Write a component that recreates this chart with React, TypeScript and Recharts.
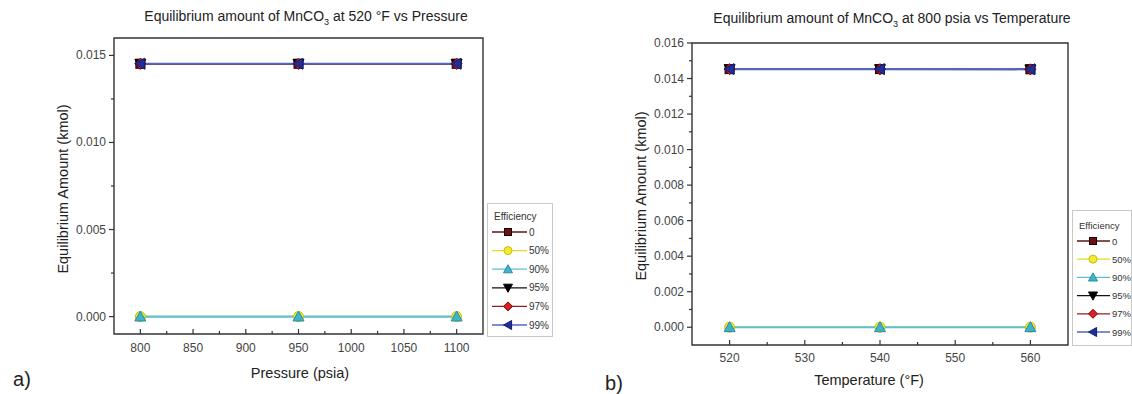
import React from "react";
import { LineChart, Line, XAxis, YAxis, ReferenceArea } from "recharts";

// x values of the two panels
const pressure = [800, 950, 1100];
const temperature = [520, 540, 560];

const efficiencies = ["0", "50%", "90%", "95%", "97%", "99%"];

// panel a: MnCO3 (kmol) at 520 °F, by efficiency
const pA_e0 = [0.01452, 0.01452, 0.01452];
const pA_e50 = [0, 0, 0];
const pA_e90 = [0, 0, 0];
const pA_e95 = [0.01452, 0.01452, 0.01452];
const pA_e97 = [0.01452, 0.01452, 0.01452];
const pA_e99 = [0.01452, 0.01452, 0.01452];

// panel b: MnCO3 (kmol) at 800 psia, by efficiency
const pB_e0 = [0.01453, 0.01453, 0.01452];
const pB_e50 = [0, 0, 0];
const pB_e90 = [0, 0, 0];
const pB_e95 = [0.01453, 0.01453, 0.01452];
const pB_e97 = [0.01453, 0.01453, 0.01452];
const pB_e99 = [0.01453, 0.01453, 0.01452];

// ticks (majors get labels)
const pressureTicks = [800, 825, 850, 875, 900, 925, 950, 975, 1000, 1025, 1050, 1075, 1100];
const pressureLabels = [800, 850, 900, 950, 1000, 1050, 1100];
const tempTicks = [520, 525, 530, 535, 540, 545, 550, 555, 560];
const tempLabels = [520, 530, 540, 550, 560];
const yTicksA = [0, 0.0025, 0.005, 0.0075, 0.01, 0.0125, 0.015];
const yLabelsA = [0, 0.005, 0.01, 0.015];
const yTicksB = [0, 0.001, 0.002, 0.003, 0.004, 0.005, 0.006, 0.007, 0.008, 0.009, 0.01, 0.011, 0.012, 0.013, 0.014, 0.015, 0.016];
const yLabelsB = [0, 0.002, 0.004, 0.006, 0.008, 0.01, 0.012, 0.014, 0.016];

const keys = ["e0", "e50", "e90", "e95", "e97", "e99"];

const styles = [
  { line: "#5a1414", fill: "#6d1010", edge: "#1a0000", shape: "square", w: 1.3 },
  { line: "#e2da1e", fill: "#f2ea34", edge: "#c9c000", shape: "circle", w: 1.3 },
  { line: "#5cc0d2", fill: "#3fb3c9", edge: "#2a8ea0", shape: "up", w: 2.2 },
  { line: "#111111", fill: "#000000", edge: "#000000", shape: "down", w: 1.3 },
  { line: "#8b2020", fill: "#d42222", edge: "#8b0000", shape: "diamond", w: 1.3 },
  { line: "#5565c2", fill: "#1f2f9a", edge: "#101c70", shape: "left", w: 2.2 },
];

const toRows = (xs: number[], series: number[][]) =>
  xs.map((x, i) => {
    const row: any = { x };
    keys.forEach((k, j) => (row[k] = series[j][i]));
    return row;
  });

const dataA = toRows(pressure, [pA_e0, pA_e50, pA_e90, pA_e95, pA_e97, pA_e99]);
const dataB = toRows(temperature, [pB_e0, pB_e50, pB_e90, pB_e95, pB_e97, pB_e99]);

const FONT = '"Liberation Sans", Arial, sans-serif';
const INK = "#333";

const Marker = ({ shape, cx, cy, fill, edge, r }: any) => {
  if (shape === "square")
    return <rect x={cx - r + 1} y={cy - r + 1} width={2 * r - 2} height={2 * r - 2} fill={fill} stroke={edge} strokeWidth={1} />;
  if (shape === "circle") return <circle cx={cx} cy={cy} r={r - 0.5} fill={fill} stroke={edge} strokeWidth={1} />;
  let pts = "";
  if (shape === "up") pts = `${cx},${cy - r} ${cx + r},${cy + r * 0.8} ${cx - r},${cy + r * 0.8}`;
  if (shape === "down") pts = `${cx},${cy + r} ${cx + r},${cy - r * 0.8} ${cx - r},${cy - r * 0.8}`;
  if (shape === "diamond") pts = `${cx},${cy - r} ${cx + r},${cy} ${cx},${cy + r} ${cx - r},${cy}`;
  if (shape === "left") pts = `${cx - r},${cy} ${cx + r * 0.8},${cy - r} ${cx + r * 0.8},${cy + r}`;
  return <polygon points={pts} fill={fill} stroke={edge} strokeWidth={1} />;
};

const isIn = (v: number, list: number[]) => list.some((m) => Math.abs(m - v) < 1e-9);

const makeXTick = (labels: number[], dy: number) => (props: any) => {
  const { x, y, payload } = props;
  const major = isIn(payload.value, labels);
  return (
    <g>
      <line x1={x} x2={x} y1={y} y2={y - (major ? 5 : 3)} stroke={INK} strokeWidth={1.2} />
      {major && (
        <text x={x} y={y + dy} textAnchor="middle" fontSize={12} fill="#444" fontFamily={FONT}>
          {payload.value}
        </text>
      )}
    </g>
  );
};

const makeYTick = (labels: number[]) => (props: any) => {
  const { x, y, payload } = props;
  const major = isIn(payload.value, labels);
  return (
    <g>
      <line x1={x} x2={x - (major ? 5 : 3)} y1={y} y2={y} stroke={INK} strokeWidth={1.2} />
      {major && (
        <text x={x - 8} y={y + 4} textAnchor="end" fontSize={12} fill="#444" fontFamily={FONT}>
          {payload.value.toFixed(3)}
        </text>
      )}
    </g>
  );
};

const Panel = ({ data, width, margin, xDomain, yDomain, xTicks, xLabels, yTicks, yLabels, dy }: any) => (
  <LineChart width={width} height={394} data={data} margin={margin}>
    <XAxis
      type="number"
      dataKey="x"
      domain={xDomain}
      allowDataOverflow
      ticks={xTicks}
      interval={0}
      height={30}
      axisLine={false}
      tickLine={false}
      tickSize={0}
      tickMargin={0}
      tick={makeXTick(xLabels, dy)}
    />
    <YAxis
      type="number"
      domain={yDomain}
      allowDataOverflow
      ticks={yTicks}
      interval={0}
      width={50}
      axisLine={false}
      tickLine={false}
      tickSize={0}
      tickMargin={0}
      tick={makeYTick(yLabels)}
    />
    <ReferenceArea
      x1={xDomain[0]}
      x2={xDomain[1]}
      y1={yDomain[0]}
      y2={yDomain[1]}
      fill="none"
      fillOpacity={0}
      stroke={INK}
      strokeWidth={1.4}
    />
    {keys.map((k, j) => (
      <Line
        key={k}
        type="linear"
        dataKey={k}
        stroke={styles[j].line}
        strokeWidth={styles[j].w}
        isAnimationActive={false}
        activeDot={false}
        dot={(p: any) => (
          <g key={`${k}-${p.index}`}>
            <Marker shape={styles[j].shape} cx={p.cx} cy={p.cy} fill={styles[j].fill} edge={styles[j].edge} r={5.5} />
          </g>
        )}
      />
    ))}
  </LineChart>
);

const LegendBox = ({ left, top, width, height, titleY, firstY, step, textX, fs }: any) => (
  <div
    style={{
      position: "absolute",
      left,
      top,
      width,
      height,
      border: "1px solid #c8c8c8",
      background: "#fff",
      boxSizing: "border-box",
    }}
  >
    <svg width={width} height={height} style={{ position: "absolute", left: -1, top: -1 }}>
      <text x={7} y={titleY + 4} fontSize={fs} fill="#333" fontFamily={FONT}>
        Efficiency
      </text>
      {efficiencies.map((name, j) => {
        const y = firstY + j * step;
        return (
          <g key={name}>
            <line x1={5} x2={textX - 2} y1={y} y2={y} stroke={styles[j].line} strokeWidth={1.3} />
            <Marker shape={styles[j].shape} cx={21} cy={y} fill={styles[j].fill} edge={styles[j].edge} r={4.5} />
            <text x={textX} y={y + 3.5} fontSize={fs} fill="#333" fontFamily={FONT}>
              {name}
            </text>
          </g>
        );
      })}
    </svg>
  </div>
);

const textBase: React.CSSProperties = {
  position: "absolute",
  fontFamily: FONT,
  color: "#222",
  whiteSpace: "nowrap",
  transform: "translate(-50%, -50%)",
  lineHeight: "16px",
};

const App = () => (
  <div style={{ position: "absolute", left: 0, top: 0, width: 1132, height: 394, overflow: "hidden", background: "#fff" }}>
    <div style={{ position: "absolute", left: 0, top: 0 }}>
      <Panel
        data={dataA}
        width={490}
        margin={{ top: 38, right: 7, bottom: 30, left: 64 }}
        xDomain={[775, 1125]}
        yDomain={[-0.001, 0.016]}
        xTicks={pressureTicks}
        xLabels={pressureLabels}
        yTicks={yTicksA}
        yLabels={yLabelsA}
        dy={18}
      />
    </div>
    <div style={{ position: "absolute", left: 600, top: 0 }}>
      <Panel
        data={dataB}
        width={475}
        margin={{ top: 43, right: 7, bottom: 19, left: 42 }}
        xDomain={[515, 565]}
        yDomain={[-0.001, 0.016]}
        xTicks={tempTicks}
        xLabels={tempLabels}
        yTicks={yTicksB}
        yLabels={yLabelsB}
        dy={17}
      />
    </div>

    <div style={{ ...textBase, left: 306, top: 19, fontSize: 14 }}>
      Equilibrium amount of MnCO<sub style={{ fontSize: 9 }}>3</sub> at 520 °F vs Pressure
    </div>
    <div style={{ ...textBase, left: 892, top: 21, fontSize: 14 }}>
      Equilibrium amount of MnCO<sub style={{ fontSize: 9 }}>3</sub> at 800 psia vs Temperature
    </div>

    <div style={{ ...textBase, left: 300, top: 373, fontSize: 14.5 }}>Pressure (psia)</div>
    <div style={{ ...textBase, left: 869, top: 380, fontSize: 14.5 }}>Temperature (°F)</div>

    <div style={{ ...textBase, left: 63, top: 189, fontSize: 14.5, transform: "translate(-50%, -50%) rotate(-90deg)" }}>
      Equilibrium Amount (kmol)
    </div>
    <div style={{ ...textBase, left: 641, top: 196, fontSize: 14.5, transform: "translate(-50%, -50%) rotate(-90deg)" }}>
      Equilibrium Amount (kmol)
    </div>

    <div style={{ ...textBase, left: 22, top: 379, fontSize: 20 }}>a)</div>
    <div style={{ ...textBase, left: 614, top: 383, fontSize: 20 }}>b)</div>

    <LegendBox left={487} top={203} width={66} height={134} titleY={13} firstY={29} step={18.6} textX={42} fs={10} />
    <LegendBox left={1072} top={210} width={60} height={136} titleY={15} firstY={31} step={18.2} textX={40} fs={9.5} />
  </div>
);

export default App;
